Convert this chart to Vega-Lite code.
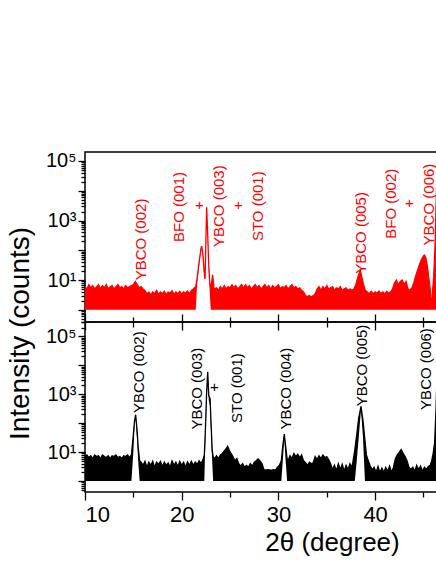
{
  "$schema": "https://vega.github.io/schema/vega-lite/v6.json",
  "padding": {"left": 5, "top": 150, "right": 0, "bottom": 5},
  "background": "white",
  "config": {
    "font": "Liberation Sans",
    "view": {"stroke": "black", "strokeWidth": 1.5},
    "axis": {"domainColor": "black", "tickColor": "black", "labelColor": "black", "titleColor": "black", "domainWidth": 1.5, "tickWidth": 1.3, "grid": false, "labelFont": "Liberation Sans", "titleFont": "Liberation Sans", "titleFontWeight": "normal"}
  },
  "spacing": 0,
  "bounds": "flush",
  "datasets": {
    "red": [
      {"x": 10.0, "hi": 6, "lo": 1}, {"x": 10.2, "hi": 5, "lo": 1}, {"x": 10.4, "hi": 7, "lo": 1}, {"x": 10.6, "hi": 5.5, "lo": 1}, {"x": 10.8, "hi": 6.5, "lo": 1},
      {"x": 11.0, "hi": 5, "lo": 1}, {"x": 11.2, "hi": 6, "lo": 1}, {"x": 11.4, "hi": 7, "lo": 1}, {"x": 11.6, "hi": 5, "lo": 1}, {"x": 11.8, "hi": 6.5, "lo": 1},
      {"x": 12.0, "hi": 5.5, "lo": 1}, {"x": 12.2, "hi": 7, "lo": 1}, {"x": 12.4, "hi": 5, "lo": 1}, {"x": 12.6, "hi": 6, "lo": 1}, {"x": 12.8, "hi": 6.5, "lo": 1},
      {"x": 13.0, "hi": 5, "lo": 1}, {"x": 13.2, "hi": 6, "lo": 1}, {"x": 13.4, "hi": 7, "lo": 1}, {"x": 13.6, "hi": 5.5, "lo": 1}, {"x": 13.8, "hi": 6, "lo": 1},
      {"x": 14.0, "hi": 5, "lo": 1}, {"x": 14.2, "hi": 6.5, "lo": 1}, {"x": 14.4, "hi": 5.5, "lo": 1}, {"x": 14.6, "hi": 6, "lo": 1}, {"x": 14.8, "hi": 6.5, "lo": 1},
      {"x": 15.0, "hi": 7, "lo": 1}, {"x": 15.2, "hi": 9, "lo": 1}, {"x": 15.4, "hi": 7, "lo": 1}, {"x": 15.6, "hi": 5.5, "lo": 1}, {"x": 15.8, "hi": 6, "lo": 1},
      {"x": 16.0, "hi": 5, "lo": 1}, {"x": 16.2, "hi": 4.5, "lo": 1}, {"x": 16.4, "hi": 3.5, "lo": 1}, {"x": 16.6, "hi": 4, "lo": 1}, {"x": 16.8, "hi": 3.2, "lo": 1},
      {"x": 17.0, "hi": 4, "lo": 1}, {"x": 17.2, "hi": 3.5, "lo": 1}, {"x": 17.4, "hi": 4.5, "lo": 1}, {"x": 17.6, "hi": 3.3, "lo": 1}, {"x": 17.8, "hi": 4, "lo": 1},
      {"x": 18.0, "hi": 3.5, "lo": 1}, {"x": 18.2, "hi": 4.2, "lo": 1}, {"x": 18.4, "hi": 3.2, "lo": 1}, {"x": 18.6, "hi": 4, "lo": 1}, {"x": 18.8, "hi": 3.6, "lo": 1},
      {"x": 19.0, "hi": 4.4, "lo": 1}, {"x": 19.2, "hi": 3.3, "lo": 1}, {"x": 19.4, "hi": 4, "lo": 1}, {"x": 19.6, "hi": 3.5, "lo": 1}, {"x": 19.8, "hi": 4.2, "lo": 1},
      {"x": 20.0, "hi": 3.4, "lo": 1}, {"x": 20.2, "hi": 4, "lo": 1}, {"x": 20.4, "hi": 3.6, "lo": 1}, {"x": 20.6, "hi": 4.3, "lo": 1}, {"x": 20.8, "hi": 3.5, "lo": 1},
      {"x": 21.0, "hi": 4.5, "lo": 1}, {"x": 21.2, "hi": 5, "lo": 1}, {"x": 21.45, "hi": 6, "lo": 1}, {"x": 21.6, "hi": 12, "lo": 8}, {"x": 21.8, "hi": 40, "lo": 30},
      {"x": 22.0, "hi": 120, "lo": 100}, {"x": 22.07, "hi": 138, "lo": 130}, {"x": 22.2, "hi": 70, "lo": 50}, {"x": 22.35, "hi": 15, "lo": 12}, {"x": 22.42, "hi": 11, "lo": 10},
      {"x": 22.5, "hi": 200, "lo": 150}, {"x": 22.58, "hi": 2800, "lo": 2500}, {"x": 22.68, "hi": 400, "lo": 300}, {"x": 22.8, "hi": 30, "lo": 20}, {"x": 22.9, "hi": 8, "lo": 4},
      {"x": 23.0, "hi": 5, "lo": 1}, {"x": 23.2, "hi": 15, "lo": 1}, {"x": 23.35, "hi": 5, "lo": 1}, {"x": 23.6, "hi": 5.5, "lo": 1}, {"x": 23.8, "hi": 4.5, "lo": 1},
      {"x": 24.0, "hi": 6, "lo": 1}, {"x": 24.2, "hi": 5, "lo": 1}, {"x": 24.4, "hi": 6.5, "lo": 1}, {"x": 24.6, "hi": 5, "lo": 1}, {"x": 24.8, "hi": 6, "lo": 1},
      {"x": 25.0, "hi": 5.5, "lo": 1}, {"x": 25.2, "hi": 7, "lo": 1}, {"x": 25.4, "hi": 5.5, "lo": 1}, {"x": 25.6, "hi": 6.5, "lo": 1}, {"x": 25.8, "hi": 5, "lo": 1},
      {"x": 26.0, "hi": 6, "lo": 1}, {"x": 26.2, "hi": 7, "lo": 1}, {"x": 26.4, "hi": 5.5, "lo": 1}, {"x": 26.6, "hi": 7, "lo": 1}, {"x": 26.8, "hi": 5.5, "lo": 1},
      {"x": 27.0, "hi": 6.5, "lo": 1}, {"x": 27.2, "hi": 5, "lo": 1}, {"x": 27.4, "hi": 6, "lo": 1}, {"x": 27.6, "hi": 7, "lo": 1}, {"x": 27.8, "hi": 5.5, "lo": 1},
      {"x": 28.0, "hi": 6.5, "lo": 1}, {"x": 28.2, "hi": 5, "lo": 1}, {"x": 28.4, "hi": 6, "lo": 1}, {"x": 28.6, "hi": 7, "lo": 1}, {"x": 28.8, "hi": 5.5, "lo": 1},
      {"x": 29.0, "hi": 6.5, "lo": 1}, {"x": 29.2, "hi": 5, "lo": 1}, {"x": 29.4, "hi": 6.5, "lo": 1}, {"x": 29.6, "hi": 5.5, "lo": 1}, {"x": 29.8, "hi": 6, "lo": 1},
      {"x": 30.0, "hi": 7, "lo": 1}, {"x": 30.2, "hi": 5, "lo": 1}, {"x": 30.4, "hi": 6, "lo": 1}, {"x": 30.6, "hi": 5.5, "lo": 1}, {"x": 30.8, "hi": 6.5, "lo": 1},
      {"x": 31.0, "hi": 5, "lo": 1}, {"x": 31.2, "hi": 6, "lo": 1}, {"x": 31.4, "hi": 7, "lo": 1}, {"x": 31.6, "hi": 5.5, "lo": 1}, {"x": 31.8, "hi": 6, "lo": 1},
      {"x": 32.0, "hi": 5, "lo": 1}, {"x": 32.2, "hi": 5.5, "lo": 1}, {"x": 32.4, "hi": 4.5, "lo": 1}, {"x": 32.6, "hi": 4, "lo": 1}, {"x": 32.8, "hi": 3, "lo": 1},
      {"x": 33.0, "hi": 2.8, "lo": 1}, {"x": 33.2, "hi": 3, "lo": 1}, {"x": 33.4, "hi": 2.7, "lo": 1}, {"x": 33.6, "hi": 3, "lo": 1}, {"x": 33.8, "hi": 3.5, "lo": 1},
      {"x": 34.0, "hi": 5, "lo": 1}, {"x": 34.2, "hi": 6, "lo": 1}, {"x": 34.4, "hi": 4.5, "lo": 1}, {"x": 34.6, "hi": 6, "lo": 1}, {"x": 34.8, "hi": 5, "lo": 1},
      {"x": 35.0, "hi": 6.5, "lo": 1}, {"x": 35.2, "hi": 5, "lo": 1}, {"x": 35.4, "hi": 5.5, "lo": 1}, {"x": 35.6, "hi": 6, "lo": 1}, {"x": 35.8, "hi": 4.5, "lo": 1},
      {"x": 36.0, "hi": 5.5, "lo": 1}, {"x": 36.2, "hi": 5, "lo": 1}, {"x": 36.4, "hi": 6, "lo": 1}, {"x": 36.6, "hi": 4.5, "lo": 1}, {"x": 36.8, "hi": 5, "lo": 1},
      {"x": 37.0, "hi": 5.5, "lo": 1}, {"x": 37.2, "hi": 4.5, "lo": 1}, {"x": 37.4, "hi": 5, "lo": 1}, {"x": 37.6, "hi": 4.5, "lo": 1}, {"x": 37.8, "hi": 5, "lo": 1},
      {"x": 38.0, "hi": 7, "lo": 1}, {"x": 38.2, "hi": 12, "lo": 1}, {"x": 38.4, "hi": 19, "lo": 1}, {"x": 38.47, "hi": 21, "lo": 1}, {"x": 38.6, "hi": 14, "lo": 1},
      {"x": 38.8, "hi": 7, "lo": 1}, {"x": 39.0, "hi": 4.5, "lo": 1}, {"x": 39.2, "hi": 4, "lo": 1}, {"x": 39.4, "hi": 3.5, "lo": 1}, {"x": 39.6, "hi": 4.2, "lo": 1},
      {"x": 39.8, "hi": 3.5, "lo": 1}, {"x": 40.0, "hi": 4, "lo": 1}, {"x": 40.2, "hi": 3.6, "lo": 1}, {"x": 40.4, "hi": 4.3, "lo": 1}, {"x": 40.6, "hi": 3.5, "lo": 1},
      {"x": 40.8, "hi": 4, "lo": 1}, {"x": 41.0, "hi": 3.4, "lo": 1}, {"x": 41.2, "hi": 4.2, "lo": 1}, {"x": 41.4, "hi": 3.6, "lo": 1}, {"x": 41.6, "hi": 4, "lo": 1},
      {"x": 41.8, "hi": 5, "lo": 1}, {"x": 42.0, "hi": 8, "lo": 1}, {"x": 42.2, "hi": 10, "lo": 1}, {"x": 42.4, "hi": 7, "lo": 1}, {"x": 42.6, "hi": 9, "lo": 1},
      {"x": 42.8, "hi": 10, "lo": 1}, {"x": 43.0, "hi": 7, "lo": 1}, {"x": 43.2, "hi": 9, "lo": 1}, {"x": 43.4, "hi": 5, "lo": 1}, {"x": 43.6, "hi": 4.5, "lo": 1},
      {"x": 43.8, "hi": 5.5, "lo": 1}, {"x": 44.0, "hi": 8, "lo": 1}, {"x": 44.2, "hi": 14, "lo": 1}, {"x": 44.4, "hi": 22, "lo": 1}, {"x": 44.6, "hi": 35, "lo": 1},
      {"x": 44.8, "hi": 50, "lo": 1}, {"x": 45.0, "hi": 65, "lo": 1}, {"x": 45.1, "hi": 69, "lo": 1}, {"x": 45.25, "hi": 55, "lo": 1}, {"x": 45.4, "hi": 30, "lo": 1},
      {"x": 45.55, "hi": 12, "lo": 1}, {"x": 45.7, "hi": 5, "lo": 1}, {"x": 45.78, "hi": 1.1, "lo": 1}, {"x": 45.9, "hi": 3, "lo": 1}, {"x": 46.05, "hi": 12, "lo": 1},
      {"x": 46.2, "hi": 150, "lo": 1}, {"x": 46.3, "hi": 3000, "lo": 1}, {"x": 46.4, "hi": 60000, "lo": 1}, {"x": 46.5, "hi": 200000, "lo": 1}
    ],
    "black": [
      {"x": 10.0, "hi": 7, "lo": 1}, {"x": 10.2, "hi": 8, "lo": 1}, {"x": 10.4, "hi": 6.5, "lo": 1}, {"x": 10.6, "hi": 7.5, "lo": 1}, {"x": 10.8, "hi": 6, "lo": 1},
      {"x": 11.0, "hi": 8, "lo": 1}, {"x": 11.2, "hi": 7, "lo": 1}, {"x": 11.4, "hi": 7.5, "lo": 1}, {"x": 11.6, "hi": 6, "lo": 1}, {"x": 11.8, "hi": 8, "lo": 1},
      {"x": 12.0, "hi": 7, "lo": 1}, {"x": 12.2, "hi": 6.5, "lo": 1}, {"x": 12.4, "hi": 7.5, "lo": 1}, {"x": 12.6, "hi": 6, "lo": 1}, {"x": 12.8, "hi": 7.5, "lo": 1},
      {"x": 13.0, "hi": 7, "lo": 1}, {"x": 13.2, "hi": 8, "lo": 1}, {"x": 13.4, "hi": 6.5, "lo": 1}, {"x": 13.6, "hi": 7, "lo": 1}, {"x": 13.8, "hi": 6, "lo": 1},
      {"x": 14.0, "hi": 7.5, "lo": 1}, {"x": 14.2, "hi": 7, "lo": 1}, {"x": 14.4, "hi": 8, "lo": 1}, {"x": 14.6, "hi": 6.5, "lo": 1}, {"x": 14.8, "hi": 8, "lo": 1},
      {"x": 15.0, "hi": 40, "lo": 10}, {"x": 15.12, "hi": 120, "lo": 80}, {"x": 15.24, "hi": 195, "lo": 150}, {"x": 15.38, "hi": 60, "lo": 30}, {"x": 15.5, "hi": 15, "lo": 5},
      {"x": 15.65, "hi": 5, "lo": 1}, {"x": 15.8, "hi": 4.5, "lo": 1}, {"x": 16.0, "hi": 3.5, "lo": 1}, {"x": 16.2, "hi": 4.8, "lo": 1}, {"x": 16.4, "hi": 3, "lo": 1},
      {"x": 16.6, "hi": 4.5, "lo": 1}, {"x": 16.8, "hi": 3.5, "lo": 1}, {"x": 17.0, "hi": 4.8, "lo": 1}, {"x": 17.2, "hi": 3, "lo": 1}, {"x": 17.4, "hi": 4.5, "lo": 1},
      {"x": 17.6, "hi": 3.8, "lo": 1}, {"x": 17.8, "hi": 4.8, "lo": 1}, {"x": 18.0, "hi": 3.2, "lo": 1}, {"x": 18.2, "hi": 4.5, "lo": 1}, {"x": 18.4, "hi": 3.5, "lo": 1},
      {"x": 18.6, "hi": 4.2, "lo": 1}, {"x": 18.8, "hi": 3, "lo": 1}, {"x": 19.0, "hi": 5, "lo": 1}, {"x": 19.2, "hi": 3.5, "lo": 1}, {"x": 19.4, "hi": 4.5, "lo": 1},
      {"x": 19.6, "hi": 3.2, "lo": 1}, {"x": 19.8, "hi": 4.8, "lo": 1}, {"x": 20.0, "hi": 3.5, "lo": 1}, {"x": 20.2, "hi": 4.5, "lo": 1}, {"x": 20.4, "hi": 3, "lo": 1},
      {"x": 20.6, "hi": 4.6, "lo": 1}, {"x": 20.8, "hi": 3.5, "lo": 1}, {"x": 21.0, "hi": 4.8, "lo": 1}, {"x": 21.2, "hi": 3.5, "lo": 1}, {"x": 21.4, "hi": 4.5, "lo": 1},
      {"x": 21.6, "hi": 3.8, "lo": 1}, {"x": 21.8, "hi": 5, "lo": 1}, {"x": 22.0, "hi": 4, "lo": 1}, {"x": 22.2, "hi": 5.5, "lo": 1}, {"x": 22.34, "hi": 8, "lo": 1},
      {"x": 22.45, "hi": 60, "lo": 30}, {"x": 22.58, "hi": 1200, "lo": 600}, {"x": 22.69, "hi": 5900, "lo": 4000}, {"x": 22.8, "hi": 900, "lo": 600}, {"x": 22.93, "hi": 720, "lo": 400},
      {"x": 23.05, "hi": 80, "lo": 30}, {"x": 23.15, "hi": 12, "lo": 5}, {"x": 23.25, "hi": 7, "lo": 1}, {"x": 23.4, "hi": 6, "lo": 1}, {"x": 23.6, "hi": 7.5, "lo": 1},
      {"x": 23.8, "hi": 6, "lo": 1}, {"x": 24.0, "hi": 8, "lo": 1}, {"x": 24.2, "hi": 9, "lo": 1}, {"x": 24.4, "hi": 11, "lo": 1}, {"x": 24.6, "hi": 13, "lo": 1},
      {"x": 24.75, "hi": 16, "lo": 1}, {"x": 24.9, "hi": 12, "lo": 1}, {"x": 25.1, "hi": 9, "lo": 1}, {"x": 25.3, "hi": 7, "lo": 1}, {"x": 25.5, "hi": 5, "lo": 1},
      {"x": 25.7, "hi": 6, "lo": 1}, {"x": 25.9, "hi": 4, "lo": 1}, {"x": 26.1, "hi": 3.3, "lo": 1}, {"x": 26.3, "hi": 4, "lo": 1}, {"x": 26.5, "hi": 3, "lo": 1},
      {"x": 26.7, "hi": 3.5, "lo": 1}, {"x": 26.9, "hi": 3, "lo": 1}, {"x": 27.1, "hi": 4, "lo": 1}, {"x": 27.3, "hi": 3.3, "lo": 1}, {"x": 27.5, "hi": 4.5, "lo": 1},
      {"x": 27.7, "hi": 5, "lo": 1}, {"x": 27.9, "hi": 5.8, "lo": 1}, {"x": 28.1, "hi": 5, "lo": 1}, {"x": 28.3, "hi": 4, "lo": 1}, {"x": 28.5, "hi": 2.5, "lo": 1},
      {"x": 28.7, "hi": 2.4, "lo": 1}, {"x": 28.9, "hi": 2.5, "lo": 1}, {"x": 29.1, "hi": 2.4, "lo": 1}, {"x": 29.3, "hi": 2.4, "lo": 1}, {"x": 29.5, "hi": 2.5, "lo": 1},
      {"x": 29.7, "hi": 2.4, "lo": 1}, {"x": 29.9, "hi": 3, "lo": 1}, {"x": 30.1, "hi": 3.5, "lo": 1}, {"x": 30.3, "hi": 5, "lo": 1}, {"x": 30.45, "hi": 16, "lo": 5},
      {"x": 30.61, "hi": 42, "lo": 30}, {"x": 30.75, "hi": 16, "lo": 5}, {"x": 30.9, "hi": 6, "lo": 1}, {"x": 31.0, "hi": 5, "lo": 1}, {"x": 31.2, "hi": 7.5, "lo": 1},
      {"x": 31.4, "hi": 6, "lo": 1}, {"x": 31.6, "hi": 9, "lo": 1}, {"x": 31.8, "hi": 7, "lo": 1}, {"x": 32.0, "hi": 8.5, "lo": 1}, {"x": 32.2, "hi": 6.5, "lo": 1},
      {"x": 32.4, "hi": 8, "lo": 1}, {"x": 32.6, "hi": 5, "lo": 1}, {"x": 32.8, "hi": 4.3, "lo": 1}, {"x": 33.0, "hi": 3.5, "lo": 1}, {"x": 33.2, "hi": 4.5, "lo": 1},
      {"x": 33.4, "hi": 4, "lo": 1}, {"x": 33.6, "hi": 4.3, "lo": 1}, {"x": 33.8, "hi": 7, "lo": 1}, {"x": 34.0, "hi": 5.5, "lo": 1}, {"x": 34.2, "hi": 7.5, "lo": 1},
      {"x": 34.4, "hi": 6, "lo": 1}, {"x": 34.6, "hi": 8, "lo": 1}, {"x": 34.8, "hi": 6.5, "lo": 1}, {"x": 35.0, "hi": 7, "lo": 1}, {"x": 35.2, "hi": 5.5, "lo": 1},
      {"x": 35.4, "hi": 4, "lo": 1}, {"x": 35.6, "hi": 2.5, "lo": 1}, {"x": 35.8, "hi": 3.5, "lo": 1}, {"x": 36.0, "hi": 2.3, "lo": 1}, {"x": 36.2, "hi": 4, "lo": 1},
      {"x": 36.4, "hi": 2.5, "lo": 1}, {"x": 36.6, "hi": 3.8, "lo": 1}, {"x": 36.8, "hi": 2.2, "lo": 1}, {"x": 37.0, "hi": 3.5, "lo": 1}, {"x": 37.2, "hi": 2.5, "lo": 1},
      {"x": 37.4, "hi": 4, "lo": 1}, {"x": 37.6, "hi": 3, "lo": 1}, {"x": 37.7, "hi": 4.5, "lo": 1}, {"x": 37.9, "hi": 12, "lo": 1}, {"x": 38.1, "hi": 40, "lo": 5},
      {"x": 38.3, "hi": 150, "lo": 30}, {"x": 38.54, "hi": 380, "lo": 300}, {"x": 38.75, "hi": 120, "lo": 30}, {"x": 38.95, "hi": 25, "lo": 1}, {"x": 39.1, "hi": 8, "lo": 1},
      {"x": 39.3, "hi": 5, "lo": 1}, {"x": 39.5, "hi": 3.3, "lo": 1}, {"x": 39.7, "hi": 2.5, "lo": 1}, {"x": 39.9, "hi": 3, "lo": 1}, {"x": 40.1, "hi": 2, "lo": 1},
      {"x": 40.3, "hi": 3.2, "lo": 1}, {"x": 40.5, "hi": 2, "lo": 1}, {"x": 40.7, "hi": 2.8, "lo": 1}, {"x": 40.9, "hi": 2, "lo": 1}, {"x": 41.1, "hi": 3, "lo": 1},
      {"x": 41.3, "hi": 2.2, "lo": 1}, {"x": 41.5, "hi": 3.3, "lo": 1}, {"x": 41.7, "hi": 2, "lo": 1}, {"x": 41.9, "hi": 3, "lo": 1}, {"x": 42.1, "hi": 6, "lo": 1},
      {"x": 42.3, "hi": 8, "lo": 1}, {"x": 42.5, "hi": 10, "lo": 1}, {"x": 42.7, "hi": 12.4, "lo": 1}, {"x": 42.9, "hi": 9, "lo": 1}, {"x": 43.1, "hi": 7, "lo": 1},
      {"x": 43.3, "hi": 5, "lo": 1}, {"x": 43.5, "hi": 3, "lo": 1}, {"x": 43.7, "hi": 2.5, "lo": 1}, {"x": 43.9, "hi": 3, "lo": 1}, {"x": 44.1, "hi": 2.2, "lo": 1},
      {"x": 44.3, "hi": 3.5, "lo": 1}, {"x": 44.5, "hi": 2.5, "lo": 1}, {"x": 44.7, "hi": 3.3, "lo": 1}, {"x": 44.9, "hi": 2.2, "lo": 1}, {"x": 45.1, "hi": 3, "lo": 1},
      {"x": 45.3, "hi": 2.5, "lo": 1}, {"x": 45.5, "hi": 3.2, "lo": 1}, {"x": 45.7, "hi": 3.5, "lo": 1}, {"x": 45.85, "hi": 5, "lo": 1}, {"x": 46.0, "hi": 9, "lo": 1},
      {"x": 46.15, "hi": 20, "lo": 1}, {"x": 46.3, "hi": 300, "lo": 1}, {"x": 46.4, "hi": 5000, "lo": 1}, {"x": 46.5, "hi": 50000, "lo": 1}
    ],
    "redLabels": [
      {"x": 15.74, "y": 9.8, "t": "YBCO (002)"},
      {"x": 19.7, "y": 190, "t": "BFO (001)"},
      {"x": 23.89, "y": 129, "t": "YBCO (003)"},
      {"x": 27.94, "y": 204, "t": "STO (001)"},
      {"x": 38.5, "y": 16.3, "t": "YBCO (005)"},
      {"x": 41.61, "y": 244, "t": "BFO (002)"},
      {"x": 45.55, "y": 146, "t": "YBCO (006)"}
    ],
    "redPlus": [
      {"x": 21.82, "y": 3400, "t": "+"},
      {"x": 25.86, "y": 3400, "t": "+"},
      {"x": 43.54, "y": 3830, "t": "+"}
    ],
    "blackLabels": [
      {"x": 15.57, "y": 223, "t": "YBCO (002)"},
      {"x": 21.57, "y": 60, "t": "YBCO (003)"},
      {"x": 25.67, "y": 101, "t": "STO (001)"},
      {"x": 30.79, "y": 60, "t": "YBCO (004)"},
      {"x": 38.68, "y": 380, "t": "YBCO (005)"},
      {"x": 45.29, "y": 287, "t": "YBCO (006)"}
    ],
    "blackPlus": [
      {"x": 23.37, "y": 1730, "t": "+"}
    ]
  },
  "vconcat": [
    {
      "width": 352,
      "height": 170,
      "layer": [
        {
          "data": {"name": "red"},
          "mark": {"type": "area", "color": "#ff0000", "clip": true},
          "encoding": {
            "x": {"field": "x", "type": "quantitative", "scale": {"domain": [10, 46.4], "nice": false, "zero": false},
              "axis": {"orient": "bottom", "values": [10, 15, 20, 25, 30, 35, 40, 45], "labels": false, "title": null, "domain": false,
                "tickSize": {"condition": {"test": "datum.value % 10 === 0", "value": 8}, "value": 5}}},
            "y": {"field": "hi", "type": "quantitative", "scale": {"type": "log", "domain": [0.39, 200000], "nice": false},
              "axis": {"title": null, "domain": false, "values": [0.4, 0.5, 0.6, 0.7, 0.8, 0.9, 1, 2, 3, 4, 5, 6, 7, 8, 9, 10, 20, 30, 40, 50, 60, 70, 80, 90, 100, 200, 300, 400, 500, 600, 700, 800, 900, 1000, 2000, 3000, 4000, 5000, 6000, 7000, 8000, 9000, 10000, 20000, 30000, 40000, 50000, 60000, 70000, 80000, 90000, 100000],
                "labelExpr": "datum.value == 10 ? '10¹' : datum.value == 1000 ? '10³' : datum.value == 100000 ? '10⁵' : ''",
                "labelFontSize": 20, "labelPadding": 2,
                "tickSize": {"condition": {"test": "datum.value == 1 || datum.value == 10 || datum.value == 100 || datum.value == 1000 || datum.value == 10000 || datum.value == 100000", "value": 7}, "value": 4}}},
            "y2": {"field": "lo"}
          }
        },
        {
          "data": {"name": "red"},
          "mark": {"type": "line", "color": "#ff0000", "clip": true, "strokeWidth": 1.3},
          "encoding": {"x": {"field": "x", "type": "quantitative"}, "y": {"field": "hi", "type": "quantitative"}}
        },
        {
          "data": {"name": "redLabels"},
          "mark": {"type": "text", "color": "#ff0000", "angle": 270, "align": "left", "baseline": "middle", "fontSize": 15, "font": "Liberation Sans"},
          "encoding": {"x": {"field": "x", "type": "quantitative"}, "y": {"field": "y", "type": "quantitative"}, "text": {"field": "t"}}
        },
        {
          "data": {"name": "redPlus"},
          "mark": {"type": "text", "color": "#ff0000", "align": "center", "baseline": "middle", "fontSize": 15, "font": "Liberation Sans"},
          "encoding": {"x": {"field": "x", "type": "quantitative"}, "y": {"field": "y", "type": "quantitative"}, "text": {"field": "t"}}
        }
      ]
    },
    {
      "width": 352,
      "height": 170,
      "resolve": {"axis": {"x": "independent"}},
      "layer": [
        {
          "data": {"name": "black"},
          "mark": {"type": "area", "color": "black", "clip": true},
          "encoding": {
            "x": {"field": "x", "type": "quantitative", "scale": {"domain": [10, 46.4], "nice": false, "zero": false},
              "axis": {"orient": "bottom", "values": [10, 15, 20, 25, 30, 35, 40, 45], "domain": false,
                "labelExpr": "datum.value % 10 === 0 ? datum.label : ''", "labelFontSize": 22, "labelPadding": 4,
                "tickSize": {"condition": {"test": "datum.value % 10 === 0", "value": 8}, "value": 5},
                "title": "2θ (degree)", "titleFontSize": 26, "titleX": 247, "titleY": 58, "titleBaseline": "alphabetic", "titleAnchor": "middle"}},
            "y": {"field": "hi", "type": "quantitative", "scale": {"type": "log", "domain": [0.42, 310000], "nice": false},
              "axis": {"domain": false, "values": [0.5, 0.6, 0.7, 0.8, 0.9, 1, 2, 3, 4, 5, 6, 7, 8, 9, 10, 20, 30, 40, 50, 60, 70, 80, 90, 100, 200, 300, 400, 500, 600, 700, 800, 900, 1000, 2000, 3000, 4000, 5000, 6000, 7000, 8000, 9000, 10000, 20000, 30000, 40000, 50000, 60000, 70000, 80000, 90000, 100000, 200000, 300000],
                "labelExpr": "datum.value == 10 ? '10¹' : datum.value == 1000 ? '10³' : datum.value == 100000 ? '10⁵' : ''",
                "labelFontSize": 20, "labelPadding": 2,
                "tickSize": {"condition": {"test": "datum.value == 1 || datum.value == 10 || datum.value == 100 || datum.value == 1000 || datum.value == 10000 || datum.value == 100000", "value": 7}, "value": 4},
                "title": "Intensity (counts)", "titleFontSize": 28, "titleAngle": 270, "titleX": -57, "titleY": 11, "titleAlign": "center", "titleBaseline": "alphabetic"}},
            "y2": {"field": "lo"}
          }
        },
        {
          "data": {"name": "black"},
          "mark": {"type": "line", "color": "black", "clip": true, "strokeWidth": 1.3},
          "encoding": {"x": {"field": "x", "type": "quantitative",
              "axis": {"orient": "top", "values": [10, 15, 20, 25, 30, 35, 40, 45], "labels": false, "title": null, "domain": false,
                "tickSize": {"condition": {"test": "datum.value % 10 === 0", "value": 8}, "value": 5}}},
            "y": {"field": "hi", "type": "quantitative"}}
        },
        {
          "data": {"name": "blackLabels"},
          "mark": {"type": "text", "color": "black", "angle": 270, "align": "left", "baseline": "middle", "fontSize": 15, "font": "Liberation Sans"},
          "encoding": {"x": {"field": "x", "type": "quantitative", "axis": null}, "y": {"field": "y", "type": "quantitative"}, "text": {"field": "t"}}
        },
        {
          "data": {"name": "blackPlus"},
          "mark": {"type": "text", "color": "black", "align": "center", "baseline": "middle", "fontSize": 15, "font": "Liberation Sans"},
          "encoding": {"x": {"field": "x", "type": "quantitative", "axis": null}, "y": {"field": "y", "type": "quantitative"}, "text": {"field": "t"}}
        }
      ]
    }
  ]
}
